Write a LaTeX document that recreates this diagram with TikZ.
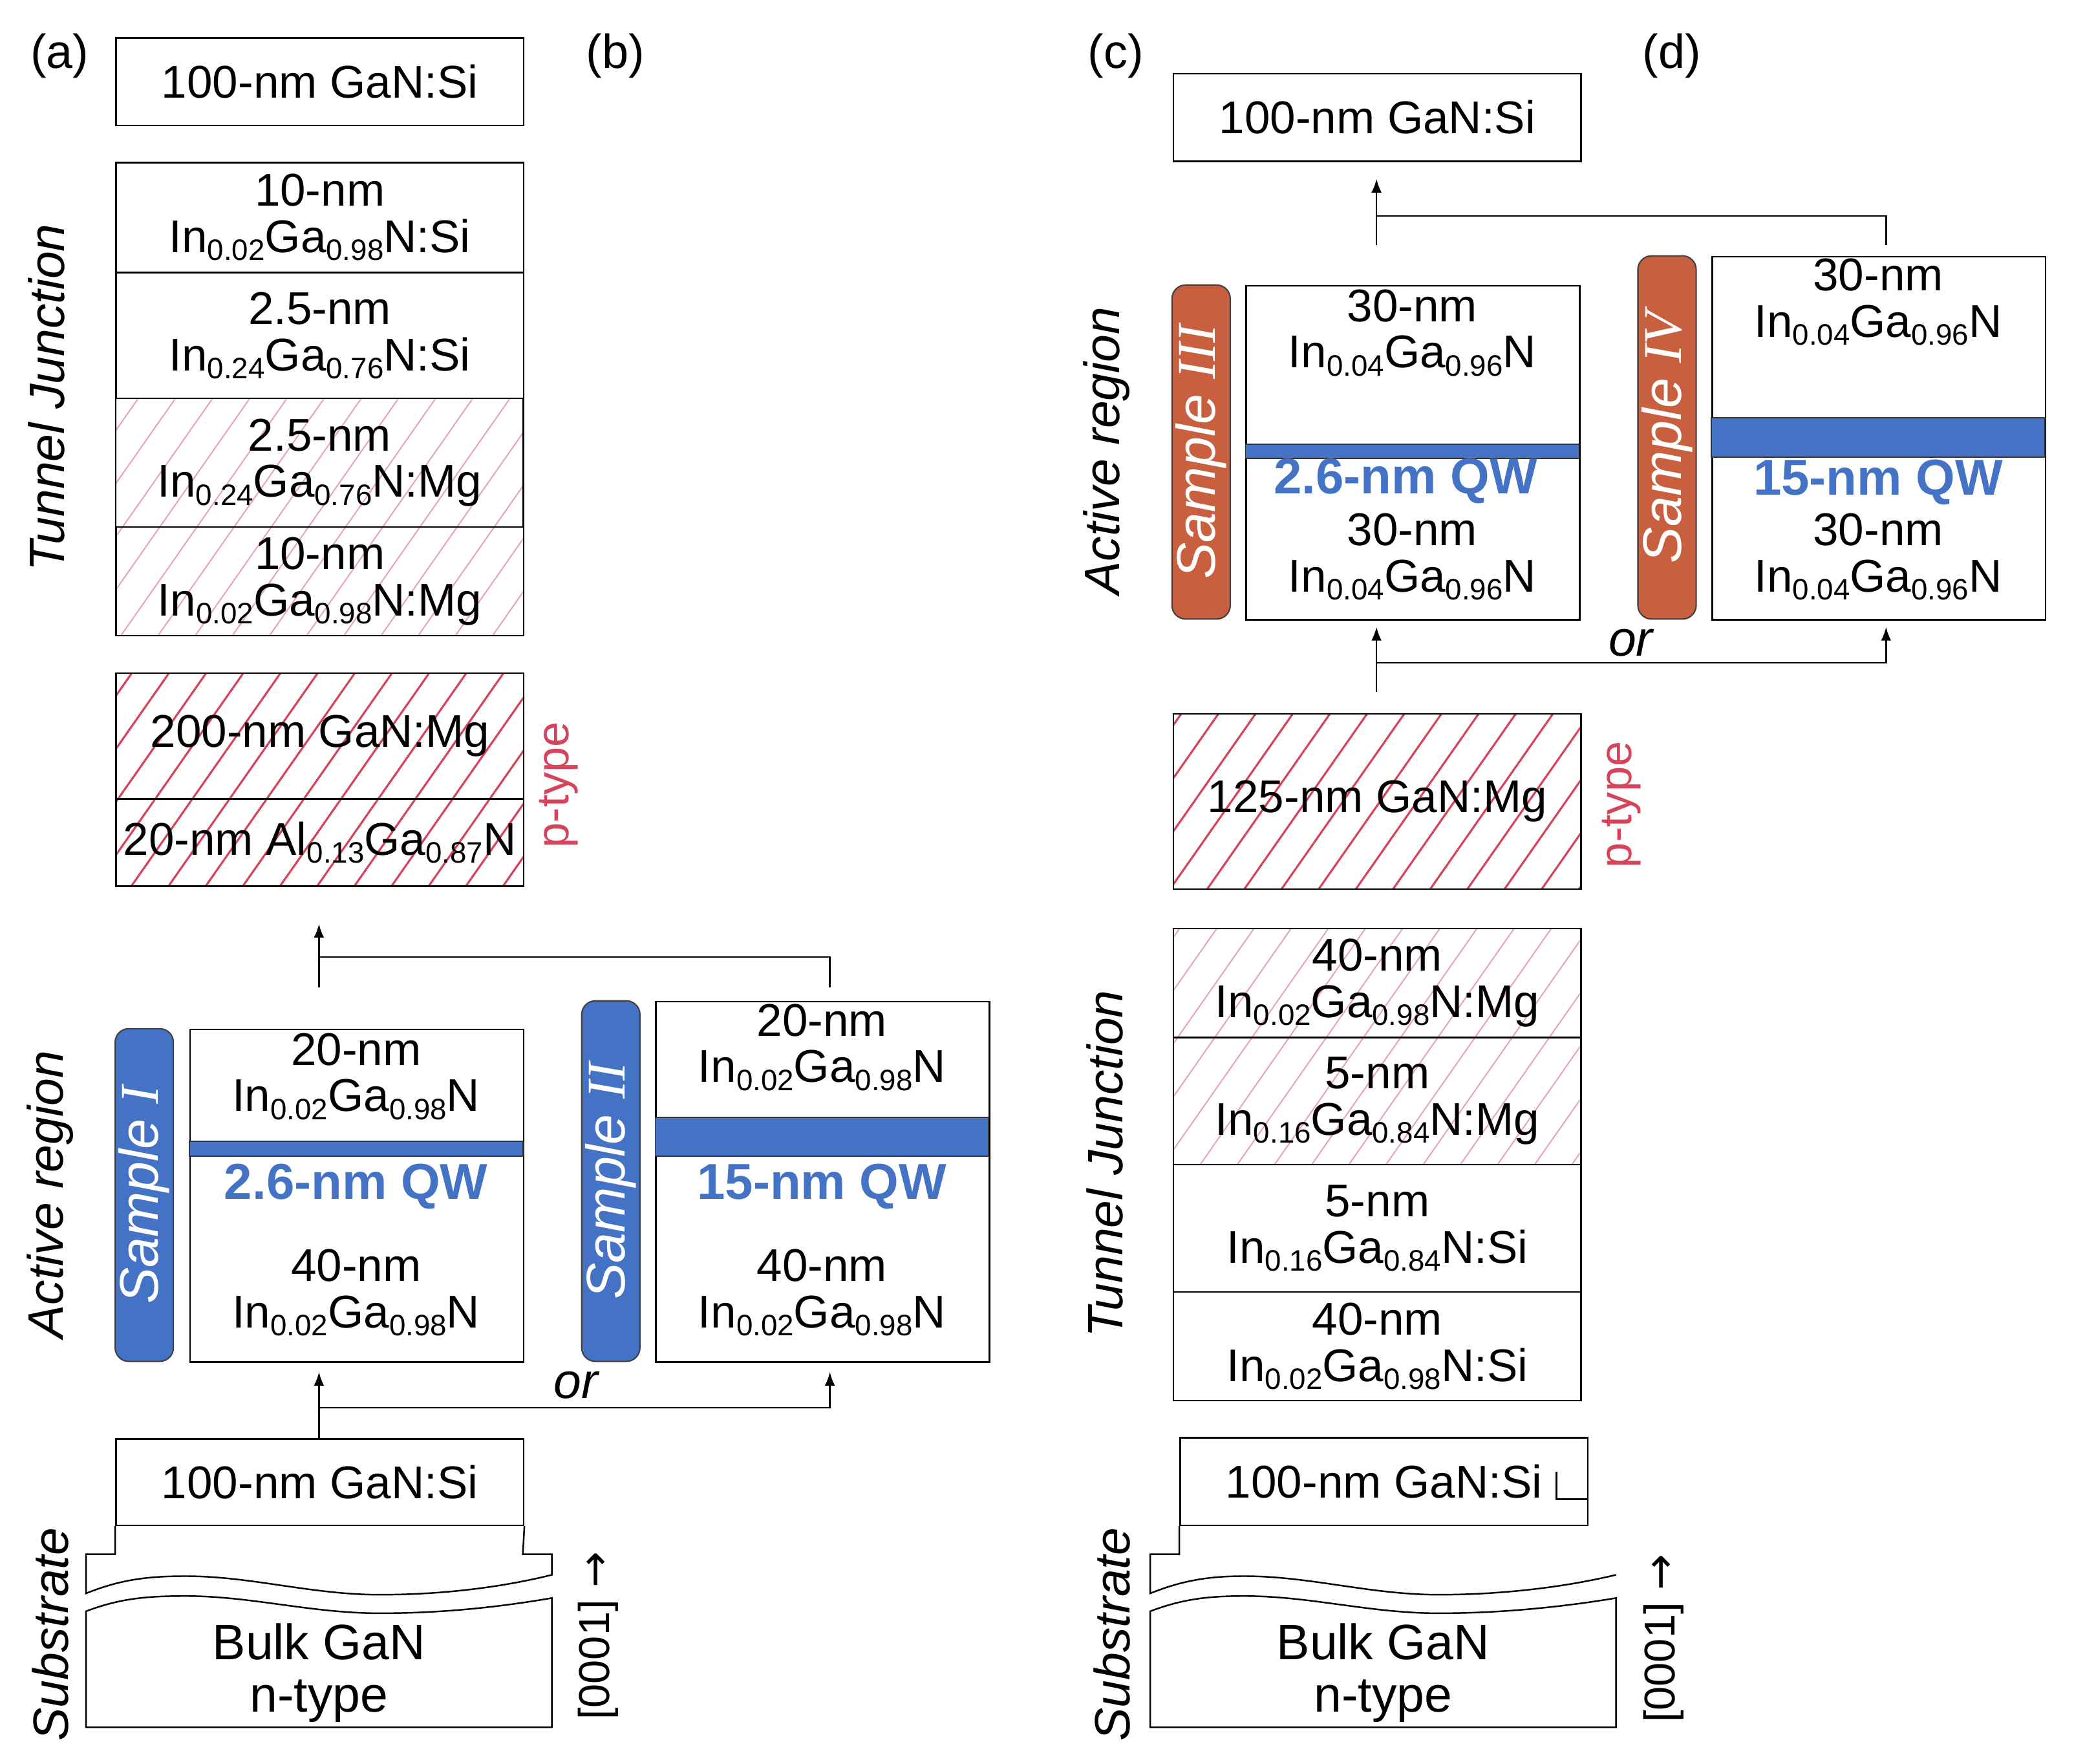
\documentclass[tikz,border=0pt]{standalone}
\usepackage{fontspec}
\setmainfont{Liberation Sans}
\newfontfamily\romfont{Liberation Serif}
\newfontfamily\arrowfont{DejaVu Sans}
\usetikzlibrary{positioning,calc,arrows.meta,patterns.meta}

\definecolor{qwblue}{HTML}{4472C4}
\definecolor{tagorange}{HTML}{C8603F}
\definecolor{pred}{HTML}{D6445C}
\definecolor{ppink}{HTML}{E9A7AF}

\newcommand{\lsub}[1]{\raisebox{-3.5pt}{\fontsize{13}{13}\selectfont #1}}
\newcommand{\InGa}[2]{In\lsub{#1}Ga\lsub{#2}N}
\def\px{0.5825pt}
\def\py{0.5833pt}

\tikzset{
  layer/.style={draw, line width=0.7pt, inner sep=0pt, anchor=north west,
    minimum width=308*\px, align=center, font=\fontsize{20.2}{20.4}\selectfont},
  qwbox/.style={layer, minimum width=252*\px},
  txt/.style={align=center, inner sep=0pt, font=\fontsize{20.2}{20.4}\selectfont},
  qwtext/.style={inner sep=0pt, text=qwblue, font=\fontsize{22.2}{22.2}\selectfont\bfseries},
  band/.style={fill=qwblue, draw=black!80, line width=0.5pt},
  pdope/.style={pattern={Lines[angle=55,distance=13.4pt,line width=0.9pt]}, pattern color=pred},
  tjdope/.style={pattern={Lines[angle=55,distance=13.4pt,line width=0.6pt]}, pattern color=ppink},
  tag/.style={rotate=90, draw=black!75, line width=0.6pt, rounded corners=6pt,
    minimum height=44*\px, inner sep=0pt, text=white, font=\fontsize{24}{24}\selectfont\itshape},
  side/.style={rotate=90, inner sep=0pt, font=\fontsize{21.9}{21.9}\selectfont\itshape},
  ptext/.style={rotate=90, inner sep=0pt, text=pred, font=\fontsize{20}{20}\selectfont},
  dirtext/.style={rotate=90, inner sep=0pt, font=\fontsize{19}{19}\selectfont},
  bulk/.style={align=center, inner sep=0pt, font=\fontsize{21.9}{23.3}\selectfont},
  plab/.style={inner sep=0pt, font=\fontsize{21}{21}\selectfont},
  ortext/.style={inner sep=0pt, font=\fontsize{21.9}{21.9}\selectfont\itshape},
  edge/.style={line width=0.7pt},
  link/.style={line width=0.7pt},
  arr/.style={line width=0.7pt, -{Latex[length=6pt,width=4.5pt]}}
}

\begin{document}
\begin{tikzpicture}[x=0.5825pt, y=-0.5833pt]
\useasboundingbox (0,0) rectangle (1567,1330.7);

% panel labels
\node[plab] (labA) at (45,42) {(a)};
\node[plab] (labB) at (465,42) {(b)};
\node[plab] (labC) at (843,42) {(c)};
\node[plab] (labD) at (1263,42) {(d)};

%%%%% (a) and (b)
\node[layer, minimum height=66*\py] (capA) at (87,28) {100-nm GaN:Si};

% tunnel junction
\node[layer, minimum height=83*\py] (tjA1) at (87,122) {10-nm\\\InGa{0.02}{0.98}:Si};
\node[layer, minimum height=95*\py] (tjA2) at (87,205) {2.5-nm\\\InGa{0.24}{0.76}:Si};
\node[layer, tjdope, minimum height=97*\py] (tjA3) at (87,300) {2.5-nm\\\InGa{0.24}{0.76}:Mg};
\node[layer, tjdope, minimum height=82*\py] (tjA4) at (87,397) {10-nm\\\InGa{0.02}{0.98}:Mg};
\node[side] (lblTJa) at (35,300) {Tunnel Junction};

% p-type
\node[layer, pdope, minimum height=95*\py] (pA1) at (87,507) {200-nm GaN:Mg};
\node[layer, pdope, minimum height=66*\py] (pA2) at (87,602) {20-nm Al\lsub{0.13}Ga\lsub{0.87}N};
\node[ptext] (ptA) at (422,592) {p-type};

% active region, sample I
\node[qwbox, minimum height=251*\py] (sI) at (143,776) {};
\draw[band] (143,861) rectangle (395,872);
\node[txt] (sIt) at (269,812) {20-nm\\\InGa{0.02}{0.98}};
\node[qwtext] (sIq) at (269,895) {2.6-nm QW};
\node[txt] (sIb) at (269,975) {40-nm\\\InGa{0.02}{0.98}};
\node[tag, fill=qwblue, minimum width=251*\py] (tI) at (109,901.5) {Sample {\romfont I}};

% active region, sample II
\node[qwbox, minimum height=272*\py] (sII) at (495,755) {};
\draw[band] (495,843) rectangle (747,872);
\node[txt] (sIIt) at (621,790) {20-nm\\\InGa{0.02}{0.98}};
\node[qwtext] (sIIq) at (621,895) {15-nm QW};
\node[txt] (sIIb) at (621,975) {40-nm\\\InGa{0.02}{0.98}};
\node[tag, fill=qwblue, minimum width=272*\py] (tII) at (461.5,891) {Sample {\romfont II}};
\node[side] (lblARa) at (38,901) {Active region};

% connectors
\coordinate (upI) at (241,745);
\coordinate (upII) at (627,745);
\coordinate (jA) at (627,722);
\coordinate (tipP) at (241,697);
\draw[arr] (upI) -- (tipP);
\draw[link] (upII) -- (jA) -- (upI |- jA);
\coordinate (tipI) at (241,1035);
\coordinate (tipII) at (627,1035);
\coordinate (orA) at (627,1062);
\draw[arr] (241,1085) -- (tipI);
\draw[arr] (241,1062) -- (orA) -- (tipII);
\node[ortext] (orAB) at (435,1045) {or};

% substrate
\node[layer, minimum height=65*\py] (subA) at (87,1085) {100-nm GaN:Si};
\draw[edge] (subA.south west) -- (87,1172.5) -- (65,1172.5) -- (65,1202)
  .. controls (90,1192) and (110,1189) .. (140,1189)
  .. controls (190,1189) and (235,1203) .. (287,1203)
  .. controls (340,1203) and (385,1196) .. (417,1188)
  -- (417,1172.5) -- (395,1172.5) -- (subA.south east);
\draw[edge] (65,1215.5)
  .. controls (90,1206) and (110,1204) .. (140,1204)
  .. controls (190,1204) and (235,1217) .. (287,1217)
  .. controls (340,1217) and (385,1211) .. (417,1205.5)
  -- (417,1303) -- (65,1303) -- cycle;
\node[bulk] (bulkA) at (241,1262) {Bulk GaN\\n-type};
\node[side] (lblSa) at (38,1233) {Substrate};
\node[dirtext] (dirA) at (452,1234) {[0001] {\arrowfont →}};

%%%%% (c) and (d)
\node[layer, minimum height=66*\py] (capC) at (886,55) {100-nm GaN:Si};

% active region, sample III
\node[qwbox, minimum height=252*\py] (sIII) at (941,215) {};
\draw[band] (941,335) rectangle (1193,346);
\node[txt] (sIIIt) at (1067,251) {30-nm\\\InGa{0.04}{0.96}};
\node[qwtext] (sIIIq) at (1062,363) {2.6-nm QW};
\node[txt] (sIIIb) at (1067,420) {30-nm\\\InGa{0.04}{0.96}};
\node[tag, fill=tagorange, minimum width=252*\py] (tIII) at (907.5,341) {Sample {\romfont III}};

% active region, sample IV
\node[qwbox, minimum height=274*\py] (sIV) at (1293,193) {};
\draw[band] (1293,315) rectangle (1545,345);
\node[txt] (sIVt) at (1419,228) {30-nm\\\InGa{0.04}{0.96}};
\node[qwtext] (sIVq) at (1419,364) {15-nm QW};
\node[txt] (sIVb) at (1419,420) {30-nm\\\InGa{0.04}{0.96}};
\node[tag, fill=tagorange, minimum width=274*\py] (tIV) at (1259.5,330) {Sample {\romfont IV}};
\node[side] (lblARc) at (836,340) {Active region};

% connectors
\coordinate (upIII) at (1040,185);
\coordinate (upIV) at (1425,185);
\coordinate (jC) at (1425,163);
\coordinate (tipCap) at (1040,135);
\draw[arr] (upIII) -- (tipCap);
\draw[link] (upIV) -- (jC) -- (upIII |- jC);
\coordinate (baseP) at (1040,522);
\coordinate (tipIII) at (1040,473);
\coordinate (tipIV) at (1425,473);
\coordinate (orC) at (1425,500);
\draw[arr] (baseP) -- (tipIII);
\draw[arr] (baseP |- orC) -- (orC) -- (tipIV);
\node[ortext] (orCD) at (1232,485) {or};

% p-type
\node[layer, pdope, minimum height=132*\py] (pC1) at (886,538) {125-nm GaN:Mg};
\node[ptext] (ptC) at (1225,607) {p-type};

% tunnel junction
\node[layer, tjdope, minimum height=82*\py] (tjC1) at (886,700) {40-nm\\\InGa{0.02}{0.98}:Mg};
\node[layer, tjdope, minimum height=96*\py] (tjC2) at (886,782) {5-nm\\\InGa{0.16}{0.84}:Mg};
\node[layer, minimum height=96*\py] (tjC3) at (886,878) {5-nm\\\InGa{0.16}{0.84}:Si};
\node[layer, minimum height=82*\py] (tjC4) at (886,974) {40-nm\\\InGa{0.02}{0.98}:Si};
\node[side] (lblTJc) at (835,878) {Tunnel Junction};

% substrate
\node[layer, minimum height=66*\py] (subC) at (891,1084) {100-nm GaN:Si};
\draw[edge] (1176,1110) -- (1176,1131) -- (subC.east |- 0,1131);
\draw[edge] (subC.south west) -- (891,1172.5) -- (869,1172.5) -- (869,1202)
  .. controls (894,1192) and (914,1189) .. (940,1189)
  .. controls (990,1189) and (1035,1203) .. (1087,1203)
  .. controls (1140,1203) and (1188,1196) .. (1221,1188);
\draw[edge] (869,1215.5)
  .. controls (894,1206) and (914,1204) .. (940,1204)
  .. controls (990,1204) and (1035,1217) .. (1087,1217)
  .. controls (1140,1217) and (1188,1211) .. (1221,1205.5)
  -- (1221,1303) -- (869,1303) -- cycle;
\node[bulk] (bulkC) at (1045,1262) {Bulk GaN\\n-type};
\node[side] (lblSc) at (840,1233) {Substrate};
\node[dirtext] (dirC) at (1257,1236) {[0001] {\arrowfont →}};

\end{tikzpicture}
\end{document}
